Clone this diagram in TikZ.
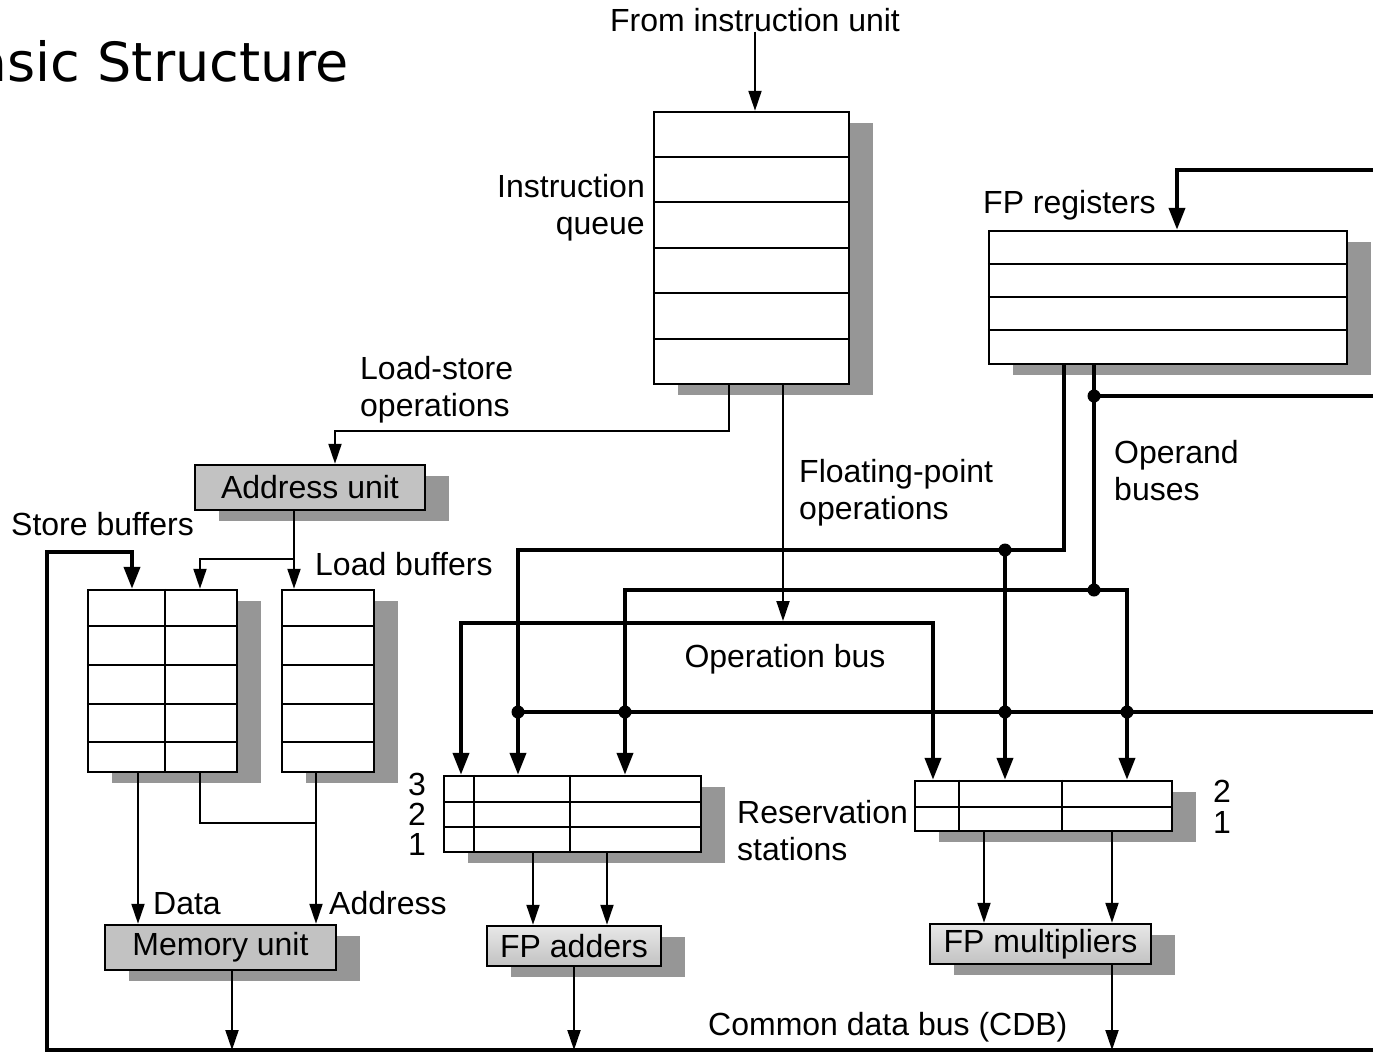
\documentclass[tikz,border=0pt]{standalone}
\usepackage{fontspec}
\setmainfont{Liberation Sans}
\newfontfamily\titlefont{DejaVu Sans}
\usetikzlibrary{arrows.meta,shadows}
\definecolor{shadowgray}{gray}{0.59}
\definecolor{unitgray}{gray}{0.76}
\definecolor{fplight}{gray}{0.91}
\newcommand{\lblfont}{\fontsize{32}{37}\selectfont}

\begin{document}
\begin{tikzpicture}[x=1pt,y=-1pt]
  \tikzstyle{regbox}=[draw,line width=2.5pt,fill=white,inner sep=0pt,drop shadow={shadow xshift=24pt,shadow yshift=-11pt,fill=shadowgray,opacity=1}]
  \tikzstyle{unitbox}=[regbox,fill=unitgray,font=\lblfont]
  \tikzstyle{fpbox}=[regbox,top color=fplight,bottom color=unitgray,font=\lblfont]
  \tikzstyle{lbl}=[font=\lblfont,inner sep=0pt]
  \tikzstyle{rowline}=[line width=2pt]
  \tikzstyle{wire}=[line width=2pt]
  \tikzstyle{wirearrow}=[wire,-{Triangle[length=20pt,width=13pt]}]
  \tikzstyle{bus}=[line width=4pt]
  \tikzstyle{busarrow}=[bus,-{Triangle[length=22pt,width=16pt]}]
  \tikzstyle{junction}=[circle,fill,inner sep=0pt,minimum size=13pt]

  \useasboundingbox (0,0) rectangle (1373,1053);

  \node[anchor=base east,inner sep=0pt,font=\titlefont\fontsize{54}{60}\selectfont] (title) at (349,81) {Basic Structure};

  \node[lbl,anchor=base] (fromiu) at (755,31) {From instruction unit};
  \node[regbox,minimum width=195pt,minimum height=272pt] (iq) at (751.5,248) {};
  \foreach \r in {157,202,248,293,339} \draw[rowline] (iq.west |- 0,\r) -- (iq.east |- 0,\r);
  \node[lbl,anchor=east,align=right] (iqlbl) at (645,208) {Instruction\\queue};

  \node[regbox,minimum width=358pt,minimum height=133pt] (fpr) at (1168,297.5) {};
  \foreach \r in {264,297,330} \draw[rowline] (fpr.west |- 0,\r) -- (fpr.east |- 0,\r);
  \node[lbl,anchor=base west] (fprlbl) at (983,213) {FP registers};

  \node[unitbox,minimum width=230pt,minimum height=45pt] (au) at (310,487.5) {Address unit};
  \node[lbl,anchor=west,align=left] (lslbl) at (360,390) {Load-store\\operations};
  \node[lbl,anchor=west,align=left] (fplbl) at (799,493) {Floating-point\\operations};
  \node[lbl,anchor=west,align=left] (oplbl) at (1114,471) {Operand\\buses};

  \node[regbox,minimum width=149pt,minimum height=182pt] (sb) at (162.5,681) {};
  \node[regbox,minimum width=92pt,minimum height=182pt] (lb) at (328,681) {};
  \foreach \r in {626,665,704,742} {
    \draw[rowline] (sb.west |- 0,\r) -- (sb.east |- 0,\r);
    \draw[rowline] (lb.west |- 0,\r) -- (lb.east |- 0,\r);
  }
  \draw[rowline] (sb.north -| 165,0) -- (sb.south -| 165,0);
  \node[lbl,anchor=base west] (sblbl) at (11,535) {Store buffers};
  \node[lbl,anchor=base west] (lblbl) at (315,575) {Load buffers};

  \node[unitbox,minimum width=231pt,minimum height=45pt] (mu) at (220.5,947.5) {Memory unit};
  \node[lbl,anchor=base west] (datalbl) at (153,914) {Data};
  \node[lbl,anchor=base west] (addrlbl) at (329,914) {Address};

  \node[regbox,minimum width=257pt,minimum height=76pt] (rsa) at (572.5,814) {};
  \foreach \r in {802,827} \draw[rowline] (rsa.west |- 0,\r) -- (rsa.east |- 0,\r);
  \foreach \c in {474,570} \draw[rowline] (rsa.north -| \c,0) -- (rsa.south -| \c,0);
  \node[regbox,minimum width=257pt,minimum height=50pt] (rsm) at (1043.5,806) {};
  \draw[rowline] (rsm.west |- 0,807) -- (rsm.east |- 0,807);
  \foreach \c in {959,1062} \draw[rowline] (rsm.north -| \c,0) -- (rsm.south -| \c,0);
  \foreach \n/\r in {3/795,2/825,1/855} \node[lbl,anchor=base] (rsa\n) at (417,\r) {\n};
  \foreach \n/\r in {2/802,1/833} \node[lbl,anchor=base] (rsm\n) at (1222,\r) {\n};
  \node[lbl,anchor=west,align=left] (rslbl) at (737,831) {Reservation\\stations};
  \node[lbl,anchor=base] (opbuslbl) at (785,667) {Operation bus};

  \node[fpbox,minimum width=174pt,minimum height=40pt] (fpa) at (574,946) {FP adders};
  \node[fpbox,minimum width=221pt,minimum height=40pt] (fpm) at (1040.5,944) {FP multipliers};
  \node[lbl,anchor=base west] (cdblbl) at (708,1035) {Common data bus (CDB)};

  \coordinate (cdbW) at (47,1050);
  \coordinate (cdbE) at (1373,1050);
  \coordinate (fbk) at (47,552);
  \coordinate (resW) at (518,712);
  \coordinate (resE) at (1373,712);
  \coordinate (regE) at (1373,170);
  \coordinate (stE) at (1373,396);
  \coordinate (opA) at (1005,550);
  \coordinate (opB) at (1094,590);
  \coordinate (opC) at (1094,396);
  \coordinate (opbus) at (697,623);
  \coordinate (fpop) at (783,621);
  \coordinate (auj) at (294,559);
  \coordinate (adj) at (316,823);
  \coordinate (rsaB) at ([xshift=52.5pt]rsa.north);
  \coordinate (rsmB) at ([xshift=83.5pt]rsm.north);
  \coordinate (sbD) at ([xshift=-24.5pt]sb.south);
  \coordinate (sbE) at ([xshift=37.5pt]sb.south);
  \coordinate (lbA) at ([xshift=-12pt]lb.south);
  \coordinate (muO) at ([xshift=11.5pt]mu.south);
  \coordinate (rsaL) at ([xshift=-39.5pt]rsa.south);
  \coordinate (rsaR) at ([xshift=34.5pt]rsa.south);
  \coordinate (rsmL) at ([xshift=-59.5pt]rsm.south);
  \coordinate (rsmR) at ([xshift=68.5pt]rsm.south);
  \coordinate (fpmO) at ([xshift=71.5pt]fpm.south);

  \draw[wirearrow] (fromiu) -- (fromiu |- iq.north);
  \draw[wirearrow] ([xshift=-22.5pt]iq.south) -- ++(0,46) -| ([xshift=25pt]au.north);
  \draw[wirearrow] ([xshift=31.5pt]iq.south) -- (fpop);

  \draw[busarrow] ([xshift=-104pt]fpr.south) |- (opA) -| ([xshift=-54.5pt]rsa.north);
  \draw[busarrow] (opA) -- (opA |- rsm.north);
  \draw[bus] ([xshift=-74pt]fpr.south) -- (opB);
  \draw[busarrow] (opB) -| (rsaB);
  \draw[busarrow] (opB) -| (rsmB);
  \draw[bus] (opC) -- (stE);
  \draw[bus,{Triangle[length=22pt,width=16pt]}-{Triangle[length=22pt,width=16pt]}] ([xshift=-111.5pt]rsa.north) |- (opbus) -| ([xshift=-110.5pt]rsm.north);
  \draw[bus] (resW) -- (resE);
  \draw[busarrow] (regE) -| ([xshift=9pt]fpr.north);
  \draw[busarrow] (cdbE) -- (cdbW) -- (fbk) -| ([xshift=-30.5pt]sb.north);

  \node[junction] (dotA) at (opA) {};
  \node[junction] (dotB) at (opB) {};
  \node[junction] (dotC) at (opC) {};
  \node[junction] (dotR1) at (resW) {};
  \node[junction] (dotR2) at (resW -| rsaB) {};
  \node[junction] (dotR3) at (resW -| opA) {};
  \node[junction] (dotR4) at (resW -| rsmB) {};

  \draw[wire] ([xshift=-16pt]au.south) -- (auj);
  \draw[wirearrow] (auj) -- (auj |- lb.north);
  \draw[wirearrow] (auj) -| ([xshift=37.5pt]sb.north);
  \draw[wirearrow] (sbD) -- (sbD |- mu.north);
  \draw[wire] (sbE) |- (adj);
  \draw[wirearrow] (lbA) -- (lbA |- mu.north);
  \draw[wirearrow] (muO) -- (muO |- cdbW);
  \draw[wirearrow] (rsaL) -- (rsaL |- fpa.north);
  \draw[wirearrow] (rsaR) -- (rsaR |- fpa.north);
  \draw[wirearrow] (fpa.south) -- (fpa.south |- cdbW);
  \draw[wirearrow] (rsmL) -- (rsmL |- fpm.north);
  \draw[wirearrow] (rsmR) -- (rsmR |- fpm.north);
  \draw[wirearrow] (fpmO) -- (fpmO |- cdbW);
\end{tikzpicture}
\end{document}
